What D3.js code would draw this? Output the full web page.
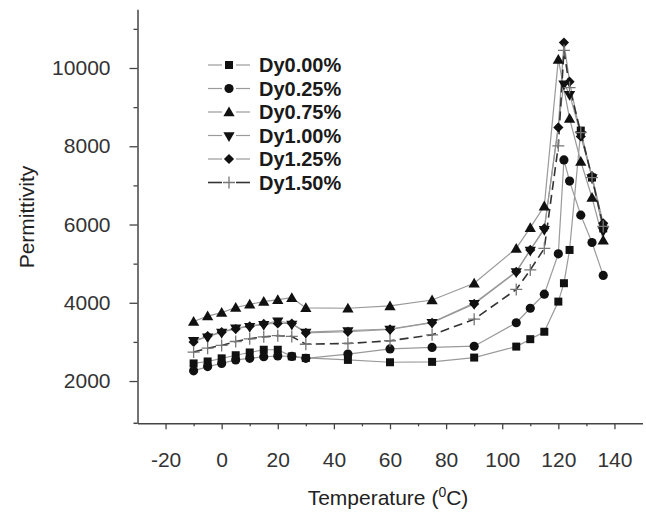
<!doctype html>
<html lang="en">
<head>
<meta charset="utf-8">
<style>
  body { margin: 0; background: #fff; }
  text { font-family: "Liberation Sans", Arial, sans-serif; }
</style>
</head>
<body>
<div id="chart"></div>
<script src="https://d3js.org/d3.v7.min.js"></script>
<script>
// temperature points (degC), shared by all series; null = no point there
var temperature = [-10, -5, 0, 5, 10, 15, 20, 25, 30, 45, 60, 75, 90, 105, 110, 115, 120, 122, 124, 128, 132, 136];
var dy000 = [2450, 2500, 2580, 2660, 2730, 2800, 2800, 2630, 2590, 2540, 2480, 2490, 2600, 2880, 3070, 3260, 4030, 4500, 5350, 8400, 7200, 5900];
var dy025 = [2260, 2370, 2450, 2540, 2580, 2620, 2640, 2630, 2580, 2690, 2820, 2860, 2890, 3490, 3860, 4220, 5250, 7650, 7110, 6240, 5540, 4700];
var dy075 = [3520, 3660, 3750, 3880, 3960, 4030, 4080, 4130, 3870, 3860, 3920, 4070, 4500, 5390, 5920, 6470, 10220, null, 8710, 7610, 6690, 5600];
var dy100 = [3040, 3130, 3250, 3360, 3400, 3450, 3540, 3460, 3250, 3290, 3330, 3500, 3990, 4800, 5350, 5880, null, 9600, 9330, 8300, 7200, 5850];
var dy125 = [3000, 3150, 3250, 3330, 3400, 3460, 3470, 3470, 3230, 3260, 3320, 3490, 3970, 4790, 5350, 5900, 8480, 10650, 9650, 8250, 7240, 6030];
var dy150 = [2740, 2840, 2910, 3010, 3080, 3130, 3160, 3140, 2940, 2960, 3030, 3180, 3580, 4340, 4840, 5390, 8010, 10450, 9500, 8350, 7200, 5950];

var seriesNames = ["Dy0.00%", "Dy0.25%", "Dy0.75%", "Dy1.00%", "Dy1.25%", "Dy1.50%"];
var seriesValues = [dy000, dy025, dy075, dy100, dy125, dy150];
var markerTypes = ["square", "circle", "triangle", "down", "diamond", "plus"];

var xMajor = [-20, 0, 20, 40, 60, 80, 100, 120, 140];
var xMinor = [-10, 10, 30, 50, 70, 90, 110, 130];
var yMajor = [2000, 4000, 6000, 8000, 10000];
var yMinor = [3000, 5000, 7000, 9000, 11000];

var width = 646, height = 516;
var svg = d3.select("#chart").append("svg")
  .attr("width", width)
  .attr("height", height);

var x = d3.scaleLinear().domain([-30, 150]).range([137.5, 642.5]);
var y = d3.scaleLinear().domain([920, 11500]).range([423.3, 9.3]);

// plain number labels, ascii hyphen for negatives, no thousands comma
var plain = function (d) { return String(d); };

// axes
var axisColor = "#444";
svg.append("g").attr("transform", "translate(0," + y(920) + ")")
  .call(d3.axisBottom(x).tickValues(xMajor).tickFormat(plain).tickSize(6).tickPadding(23).tickSizeOuter(0));
svg.append("g").attr("transform", "translate(0," + y(920) + ")")
  .call(d3.axisBottom(x).tickValues(xMinor).tickSize(3).tickFormat(""))
  .select(".domain").remove();
svg.append("g").attr("transform", "translate(" + x(-30) + ",0)")
  .call(d3.axisLeft(y).tickValues(yMajor).tickFormat(plain).tickSize(8).tickPadding(19).tickSizeOuter(0));
svg.append("g").attr("transform", "translate(" + x(-30) + ",0)")
  .call(d3.axisLeft(y).tickValues(yMinor).tickSize(4).tickFormat(""))
  .select(".domain").remove();

// little overhang of the x axis to the left of the y axis
svg.append("line")
  .attr("x1", x(-30) - 4).attr("x2", x(-30))
  .attr("y1", y(920)).attr("y2", y(920))
  .attr("stroke", axisColor).attr("stroke-width", 1.5);

svg.selectAll(".domain").attr("stroke", axisColor).attr("stroke-width", 1.5);
svg.selectAll(".tick line").attr("stroke", axisColor).attr("stroke-width", 1.3);
svg.selectAll(".tick text")
  .style("font-family", "'Liberation Sans', Arial, sans-serif")
  .style("font-size", "21px")
  .attr("fill", "#333");

// axis titles
svg.append("text")
  .attr("transform", "translate(34,217) rotate(-90)")
  .attr("text-anchor", "middle")
  .style("font-size", "21px")
  .attr("fill", "#222")
  .text("Permittivity");
var xt = svg.append("text")
  .attr("x", 388).attr("y", 505)
  .attr("text-anchor", "middle")
  .style("font-size", "21px")
  .attr("fill", "#222");
xt.append("tspan").text("Temperature (");
xt.append("tspan").attr("dy", -8).style("font-size", "14px").text("0");
xt.append("tspan").attr("dy", 8).text("C)");

// marker drawing
function marker(sel, type, cx, cy) {
  var g = sel.append("g").attr("transform", "translate(" + cx + "," + cy + ")");
  if (type === "plus") {
    g.append("path").attr("d", "M-6,0H6M0,-6V6")
      .attr("stroke", "#777").attr("stroke-width", 1.3).attr("fill", "none");
    return g;
  }
  var sym;
  if (type === "square") sym = d3.symbol().type(d3.symbolSquare).size(64);
  else if (type === "circle") sym = d3.symbol().type(d3.symbolCircle).size(66);
  else if (type === "triangle" || type === "down") sym = d3.symbol().type(d3.symbolTriangle).size(55);
  else sym = d3.symbol().type(d3.symbolSquare).size(52);
  var p = g.append("path").attr("d", sym()).attr("fill", "#111");
  if (type === "down") p.attr("transform", "rotate(180)");
  if (type === "diamond") p.attr("transform", "rotate(45)");
  if (type === "triangle") p.attr("transform", "translate(0,1)");
  return g;
}

var line = d3.line().x(function (d) { return x(d.t); }).y(function (d) { return y(d.v); });

var seriesData = seriesValues.map(function (vals) {
  return temperature.map(function (t, i) { return { t: t, v: vals[i] }; })
    .filter(function (d) { return d.v !== null; });
});

// lines first
seriesData.forEach(function (data, i) {
  var dashed = markerTypes[i] === "plus";
  svg.append("path")
    .datum(data)
    .attr("d", line)
    .attr("fill", "none")
    .attr("stroke", dashed ? "#333" : "#9a9a9a")
    .attr("stroke-width", dashed ? 1.6 : 1.2)
    .attr("stroke-dasharray", dashed ? "9,5" : null);
});

// markers on top
seriesData.forEach(function (data, i) {
  var g = svg.append("g").attr("class", "markers");
  data.forEach(function (d) {
    marker(g, markerTypes[i], x(d.t), y(d.v));
  });
});

// legend
var legend = svg.append("g").attr("class", "legend");
seriesNames.forEach(function (name, i) {
  var ly = 65 + i * 23.5;
  var dark = markerTypes[i] === "plus";
  legend.append("line").attr("x1", 208).attr("x2", 222).attr("y1", ly).attr("y2", ly)
    .attr("stroke", dark ? "#333" : "#9a9a9a").attr("stroke-width", dark ? 1.6 : 1.2);
  legend.append("line").attr("x1", 236).attr("x2", 250).attr("y1", ly).attr("y2", ly)
    .attr("stroke", dark ? "#333" : "#9a9a9a").attr("stroke-width", dark ? 1.6 : 1.2);
  marker(legend, markerTypes[i], 229, ly);
  legend.append("text")
    .attr("x", 259).attr("y", ly)
    .attr("dy", "0.36em")
    .style("font-size", "20px")
    .style("font-weight", "bold")
    .attr("fill", "#1a1a1a")
    .text(name);
});
</script>
</body>
</html>
